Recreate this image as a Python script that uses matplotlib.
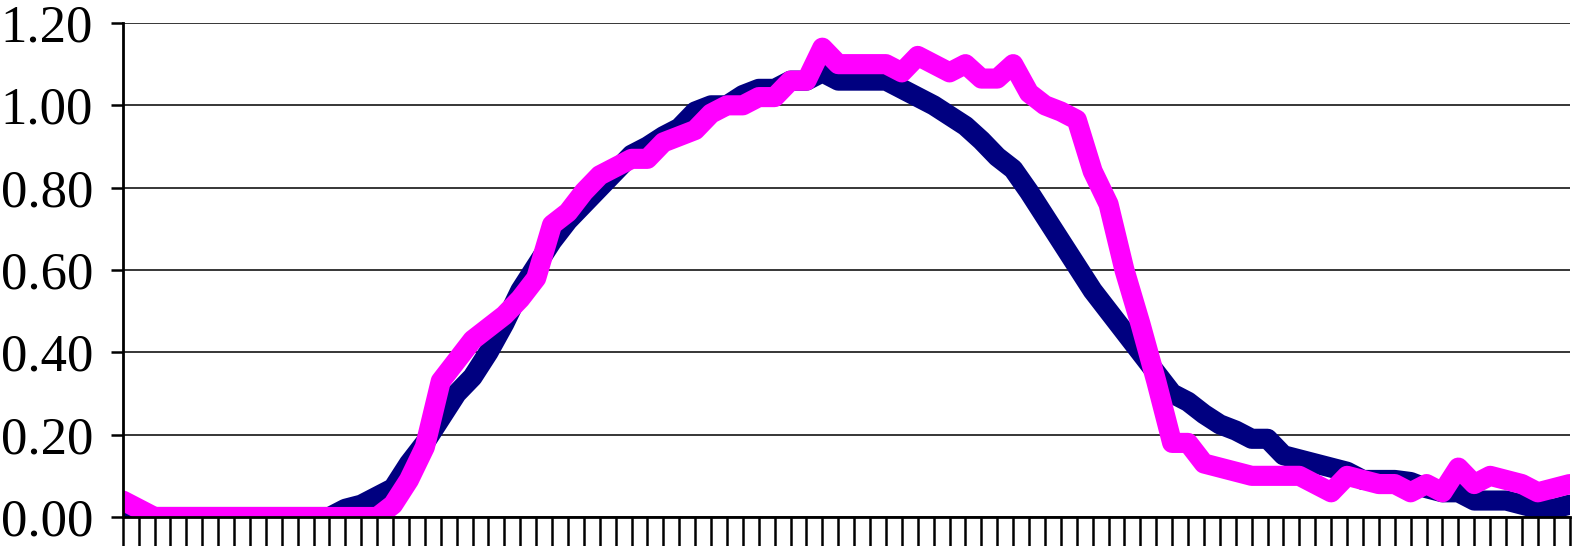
import numpy as np
import matplotlib
matplotlib.use('Agg')
import matplotlib.pyplot as plt

# two daily profiles, one value per tick on the category axis (92 slots)
navy_vals = [0.00, 0.00, 0.00, 0.00, 0.00, 0.00, 0.00, 0.00, 0.00, 0.00,
             0.00, 0.00, 0.00, 0.00, 0.02, 0.03, 0.05, 0.07, 0.13, 0.18,
             0.24, 0.30, 0.34, 0.40, 0.47, 0.55, 0.61, 0.67, 0.72, 0.76,
             0.80, 0.84, 0.88, 0.90, 0.925, 0.945, 0.985, 1.00, 1.00, 1.025,
             1.04, 1.04, 1.06, 1.06, 1.08, 1.06, 1.06, 1.06, 1.06, 1.04,
             1.02, 1.00, 0.975, 0.95, 0.915, 0.875, 0.845, 0.79, 0.73, 0.67,
             0.61, 0.55, 0.50, 0.45, 0.40, 0.35, 0.30, 0.28, 0.25, 0.225,
             0.21, 0.19, 0.19, 0.15, 0.14, 0.13, 0.12, 0.11, 0.09, 0.09,
             0.09, 0.085, 0.07, 0.06, 0.06, 0.04, 0.04, 0.04, 0.03, 0.02,
             0.02, 0.03]

pink_vals = [0.04, 0.02, 0.00, 0.00, 0.00, 0.00, 0.00, 0.00, 0.00, 0.00,
             0.00, 0.00, 0.00, 0.00, 0.00, 0.00, 0.00, 0.03, 0.09, 0.17,
             0.33, 0.38, 0.43, 0.46, 0.49, 0.53, 0.58, 0.71, 0.74, 0.79,
             0.83, 0.85, 0.87, 0.87, 0.91, 0.925, 0.94, 0.98, 1.00, 1.00,
             1.02, 1.02, 1.06, 1.06, 1.14, 1.10, 1.10, 1.10, 1.10, 1.08,
             1.12, 1.10, 1.08, 1.10, 1.065, 1.065, 1.10, 1.03, 1.00, 0.985,
             0.965, 0.84, 0.76, 0.60, 0.47, 0.33, 0.18, 0.18, 0.13, 0.12,
             0.11, 0.10, 0.10, 0.10, 0.10, 0.08, 0.06, 0.10, 0.09, 0.08,
             0.08, 0.06, 0.08, 0.06, 0.12, 0.08, 0.10, 0.09, 0.08, 0.06,
             0.07, 0.08]

y_ticks = [0.0, 0.2, 0.4, 0.6, 0.8, 1.0, 1.2]

fig = plt.figure(figsize=(15.72, 5.46), dpi=100)
ax = fig.add_axes([0.0781, 0.0531, 0.9204, 0.9048])

x = np.arange(len(navy_vals))
ax.plot(x, navy_vals, color='#000080', lw=14.5,
        solid_joinstyle='round', solid_capstyle='round', zorder=3)
ax.plot(x, pink_vals, color='#FF00FF', lw=14.5,
        solid_joinstyle='round', solid_capstyle='round', zorder=4)

ax.set_xlim(0, len(x) - 1)
ax.set_ylim(0, 1.2)
ax.set_yticks(y_ticks)
ax.set_yticklabels(['%.2f' % v for v in y_ticks],
                   fontfamily='Liberation Serif', fontsize=38)
ax.set_xticks(x)
ax.set_xticklabels([])

ax.yaxis.grid(True, color='black', lw=1.1)
ax.set_axisbelow(True)

for s in ['top', 'right']:
    ax.spines[s].set_visible(False)
for s in ['left', 'bottom']:
    ax.spines[s].set_linewidth(2.0)
    ax.spines[s].set_zorder(5)

ax.tick_params(axis='y', length=8.5, width=1.8, pad=13, direction='out')
ax.tick_params(axis='x', length=22, width=1.8, direction='out')

fig.savefig('out.png', dpi=100)
